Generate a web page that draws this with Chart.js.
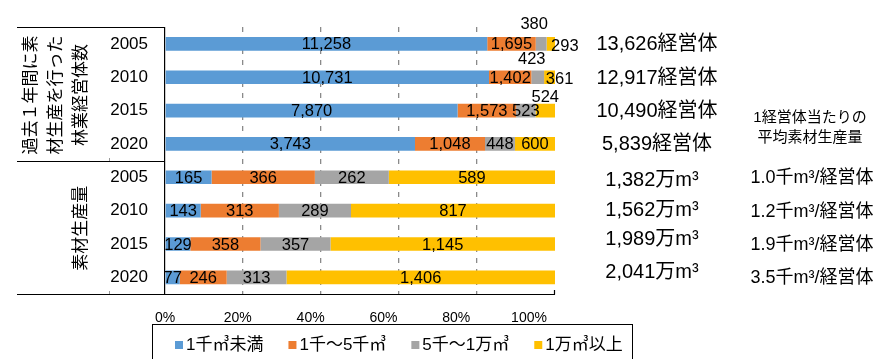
<!DOCTYPE html>
<html lang="ja">
<head>
<meta charset="utf-8">
<script src="https://cdn.jsdelivr.net/npm/chart.js@4/dist/chart.umd.min.js"></script>
<style>
  html, body { margin: 0; padding: 0; background: #fff; }
  #wrap { position: relative; width: 890px; height: 359px; }
</style>
</head>
<body>
<div id="wrap"><canvas id="chart" width="890" height="359"></canvas></div>
<script>
// ---- data ----
const years = ['2005', '2010', '2015', '2020', '2005', '2010', '2015', '2020'];
const seriesNames = ['1千㎥未満', '1千～5千㎥', '5千～1万㎥', '1万㎥以上'];
// rows 0-3: number of forestry entities, rows 4-7: log production (万m3)
const under1k   = [11258, 10731, 7870, 3743, 165, 143, 129, 77];
const from1kTo5k = [1695, 1402, 1573, 1048, 366, 313, 358, 246];
const from5kTo10k = [380, 423, 523, 448, 262, 289, 357, 313];
const over10k   = [293, 361, 524, 600, 589, 817, 1145, 1406];
const entityTotals = [13626, 12917, 10490, 5839];   // 経営体
const volumeTotals = [1382, 1562, 1989, 2041];      // 万m3
const avgPerEntity = ['1.0', '1.2', '1.9', '3.5'];  // 千m3/経営体
const groupTitles = [['過去１年間に素', '材生産を行った', '林業経営体数'], ['素材生産量']];
const avgHeader = ['1経営体当たりの', '平均素材生産量'];
const percentTicks = [0, 20, 40, 60, 80, 100];

// ---- styling ----
const colors = ['#5B9BD5', '#ED7D31', '#A5A5A5', '#FFC000'];
const FAMILY = '"Liberation Sans", "Noto Sans CJK JP", sans-serif';
const font = (size) => `${size}px ${FAMILY}`;

// nudges for crowded value labels, keyed "dataset,row"
const labelNudges = {
  '2,0': { dx: -7, dy: -20 },
  '3,0': { dx: 14, dy: 2 },
  '2,1': { dx: -6, dy: -19 },
  '3,1': { dx: 10, dy: 1 },
  '3,2': { dx: 0, dy: -14 }
};

const seriesValues = [under1k, from1kTo5k, from5kTo10k, over10k];
const rowSums = years.map((_, r) => seriesValues.reduce((s, arr) => s + arr[r], 0));

const datasets = seriesValues.map((vals, i) => ({
  label: seriesNames[i],
  raw: vals,
  data: vals.map((v, r) => v / rowSums[r] * 100),
  backgroundColor: colors[i],
  borderWidth: 0,
  barPercentage: 0.41,
  categoryPercentage: 1
}));

const fmt = (n) => n.toLocaleString('en-US');

const decorations = {
  id: 'decorations',
  afterDatasetsDraw(chart) {
    const ctx = chart.ctx;
    ctx.save();
    ctx.font = font(16.5);
    ctx.fillStyle = '#000';
    ctx.textAlign = 'center';
    ctx.textBaseline = 'middle';
    chart.data.datasets.forEach((ds, i) => {
      const meta = chart.getDatasetMeta(i);
      meta.data.forEach((bar, r) => {
        const n = labelNudges[i + ',' + r] || { dx: 0, dy: 0 };
        const cx = (bar.x + bar.base) / 2 + n.dx;
        ctx.fillText(fmt(ds.raw[r]), cx, bar.y + 1 + n.dy);
      });
    });
    ctx.restore();
  },
  afterDraw(chart) {
    const ctx = chart.ctx;
    const area = chart.chartArea;
    const y = chart.scales.y;
    const rowY = (r) => y.getPixelForValue(r);
    const split = (rowY(3) + rowY(4)) / 2;
    const leftEdge = 17;
    ctx.save();

    // category table rules
    ctx.strokeStyle = '#000';
    ctx.lineWidth = 1.2;
    ctx.beginPath();
    ctx.moveTo(leftEdge, Math.round(area.top) + 0.5); ctx.lineTo(area.left, Math.round(area.top) + 0.5);
    ctx.moveTo(leftEdge, Math.round(split) + 0.5); ctx.lineTo(area.left, Math.round(split) + 0.5);
    ctx.moveTo(leftEdge, Math.round(area.bottom) + 0.5); ctx.lineTo(area.right, Math.round(area.bottom) + 0.5);
    ctx.moveTo(area.right - 0.5, Math.round(area.bottom) + 0.5); ctx.lineTo(area.right - 0.5, area.bottom - 4);
    ctx.stroke();
    ctx.strokeStyle = '#999';
    ctx.lineWidth = 1;
    ctx.beginPath();
    ctx.moveTo(109.5, Math.round(split)); ctx.lineTo(109.5, Math.round(split) - 3);
    ctx.moveTo(109.5, Math.round(area.bottom)); ctx.lineTo(109.5, Math.round(area.bottom) - 3);
    ctx.stroke();

    // group titles, rotated
    ctx.fillStyle = '#000';
    ctx.font = font(17);
    ctx.textAlign = 'center';
    ctx.textBaseline = 'middle';
    const groupCenters = [(area.top + split) / 2 + 1, (split + area.bottom) / 2 + 1];
    groupTitles.forEach((lines, g) => {
      lines.forEach((line, k) => {
        const lx = 81 - (lines.length - 1 - k) * 25;
        ctx.save();
        ctx.translate(lx, groupCenters[g]);
        ctx.rotate(-Math.PI / 2);
        ctx.fillText(line, 0, 0);
        ctx.restore();
      });
    });

    // totals on the right
    ctx.font = font(20);
    entityTotals.forEach((v, r) => {
      ctx.fillText(fmt(v) + '経営体', area.right + 102, rowY(r) + 1);
    });
    const volumeNudge = [3, 0, -4, -5];
    volumeTotals.forEach((v, r) => {
      ctx.fillText(fmt(v) + '万m³', area.right + 97, rowY(r + 4) + volumeNudge[r]);
    });
    ctx.font = font(15);
    avgHeader.forEach((t, k) => ctx.fillText(t, area.right + 255, 118 + k * 20));
    ctx.font = font(18);
    avgPerEntity.forEach((v, r) => {
      ctx.fillText(v + '千m³/経営体', area.right + 257, rowY(r + 4) + 1);
    });

    // legend
    ctx.strokeStyle = '#000';
    ctx.lineWidth = 1;
    ctx.strokeRect(152.5, 324.5, 480, 60);
    ctx.font = font(17);
    ctx.textAlign = 'left';
    let lx = 175;
    const ly = 345;
    chart.data.datasets.forEach((ds) => {
      ctx.fillStyle = ds.backgroundColor;
      ctx.fillRect(lx, ly - 4, 8, 8);
      lx += 11;
      ctx.fillStyle = '#000';
      ctx.fillText(ds.label, lx, ly);
      lx += ctx.measureText(ds.label).width + 25;
    });
    ctx.restore();
  }
};

new Chart(document.getElementById('chart'), {
  type: 'bar',
  data: { labels: years, datasets },
  options: {
    indexAxis: 'y',
    responsive: false,
    animation: false,
    devicePixelRatio: 1,
    layout: { padding: { left: 0, right: 335, top: 19, bottom: 0 } },
    plugins: { legend: { display: false }, tooltip: { enabled: false } },
    scales: {
      x: {
        type: 'linear',
        position: 'top',
        stacked: true,
        min: 0,
        max: 100,
        ticks: { display: false, stepSize: 20 },
        grid: {
          drawTicks: false,
          lineWidth: 1.3,
          color: (c) => (c.tick && (c.tick.value === 0 || c.tick.value === 100)) ? 'rgba(0,0,0,0)' : '#8a8a8a'
        },
        border: { display: false, dash: [5, 6] },
        afterFit: (s) => { s.height = 0; }
      },
      x2: {
        type: 'linear',
        axis: 'x',
        position: 'bottom',
        min: 0,
        max: 107.14,
        afterBuildTicks: (s) => { s.ticks = percentTicks.map((v) => ({ value: v })); },
        ticks: {
          callback: (v) => v + '%',
          font: { family: FAMILY, size: 14 },
          color: '#000',
          padding: 16,
          autoSkip: false,
          maxRotation: 0
        },
        grid: { display: false, drawTicks: false },
        border: { display: false },
        afterFit: (s) => { s.height = 65; }
      },
      y: {
        type: 'category',
        stacked: true,
        ticks: { font: { family: FAMILY, size: 17 }, color: '#000', padding: 17 },
        grid: { display: false, drawTicks: false },
        border: { display: true, color: '#000', width: 1.2 },
        afterFit: (s) => { s.width = 165; }
      }
    }
  },
  plugins: [decorations]
});
</script>
</body>
</html>
